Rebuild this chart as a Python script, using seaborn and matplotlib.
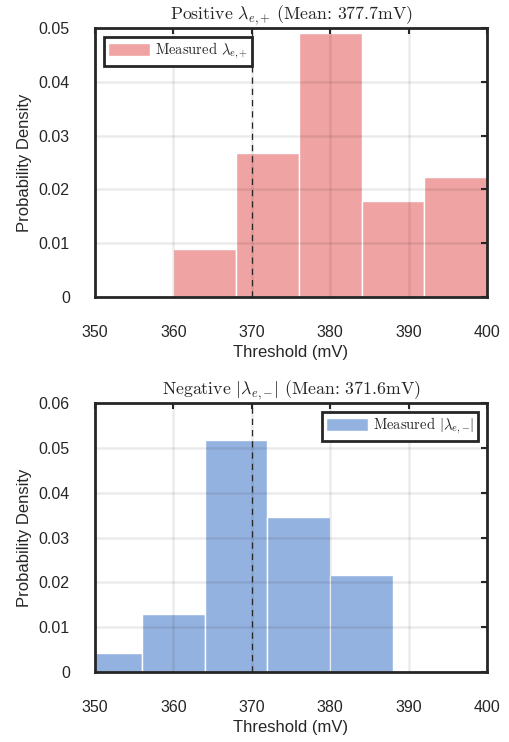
import matplotlib
matplotlib.use("Agg")
import matplotlib.pyplot as plt
import numpy as np
import pandas as pd
import seaborn as sns

# histogram data (probability density per 8 mV bin)
pos_edges = [360, 368, 376, 384, 392, 400]
pos_density = [0.0089, 0.0268, 0.0491, 0.0179, 0.0223]
neg_edges = [348, 356, 364, 372, 380, 388]
neg_density = [0.0043, 0.0129, 0.0517, 0.0345, 0.0216]

ref_line = 370
x_ticks = [350, 360, 370, 380, 390, 400]
pos_yticks = [0, 0.01, 0.02, 0.03, 0.04, 0.05]
pos_ylabels = ["0", "0.01", "0.02", "0.03", "0.04", "0.05"]
neg_yticks = [0, 0.01, 0.02, 0.03, 0.04, 0.05, 0.06]
neg_ylabels = ["0", "0.01", "0.02", "0.03", "0.04", "0.05", "0.06"]

sns.set_style("white")
plt.rcParams["font.family"] = ["Liberation Sans", "DejaVu Sans"]
plt.rcParams["mathtext.fontset"] = "cm"

dark = "#262626"


def panel(ax, edges, density, color, title, label, yticks, ylabels, loc):
    df = pd.DataFrame({
        "x": [(a + b) / 2 for a, b in zip(edges[:-1], edges[1:])],
        "w": density,
    })
    sns.histplot(data=df, x="x", weights="w", bins=edges, stat="count",
                 color=color, alpha=0.6, edgecolor="white", linewidth=1,
                 ax=ax, label=label)
    ax.axvline(ref_line, color=dark, linestyle=(0, (5, 4)), linewidth=0.9, zorder=5)
    ax.set_xlim(350, 400)
    ax.set_ylim(yticks[0], yticks[-1])
    ax.set_xticks(x_ticks)
    ax.set_yticks(yticks)
    ax.set_yticklabels(ylabels)
    ax.set_axisbelow(False)
    ax.grid(True, color="#000000", alpha=0.08, linewidth=1.8)
    ax.tick_params(direction="in", length=4, width=1.5, color=dark,
                   labelsize=11.5, labelcolor=dark, top=True, right=True)
    ax.tick_params(axis="x", pad=20)
    ax.tick_params(axis="y", pad=18)
    for s in ax.spines.values():
        s.set_linewidth(2)
        s.set_color(dark)
        s.set_zorder(6)
    ax.set_xlabel("Threshold (mV)", fontsize=12, color=dark, labelpad=4)
    ax.set_ylabel("Probability Density", fontsize=12, color=dark, labelpad=5)
    ax.set_title(title, fontsize=12.8, family="cmr10", color=dark, pad=6)
    leg = ax.legend(loc=loc, prop={"family": "cmr10", "size": 10.5},
                    fancybox=False, framealpha=1, borderpad=0.3,
                    handlelength=2.9, handleheight=0.9, handletextpad=0.3,
                    borderaxespad=0.6)
    leg.get_frame().set_edgecolor(dark)
    leg.get_frame().set_linewidth(2)


fig = plt.figure(figsize=(5.1, 7.42), dpi=100)
ax1 = fig.add_axes([0.186, 0.5997, 0.769, 0.3625])
ax2 = fig.add_axes([0.186, 0.0943, 0.769, 0.3625])

panel(ax1, pos_edges, pos_density, (0.9, 0.4, 0.4),
      r"Positive $\lambda_{e,{+}}$ (Mean: 377.7mV)",
      r"Measured $\lambda_{e,{+}}$", pos_yticks, pos_ylabels, "upper left")
panel(ax2, neg_edges, neg_density, (0.3, 0.5, 0.8),
      r"Negative $|\lambda_{e,{-}}|$ (Mean: 371.6mV)",
      r"Measured $|\lambda_{e,{-}}|$", neg_yticks, neg_ylabels, "upper right")

fig.savefig("out.png", dpi=100)
